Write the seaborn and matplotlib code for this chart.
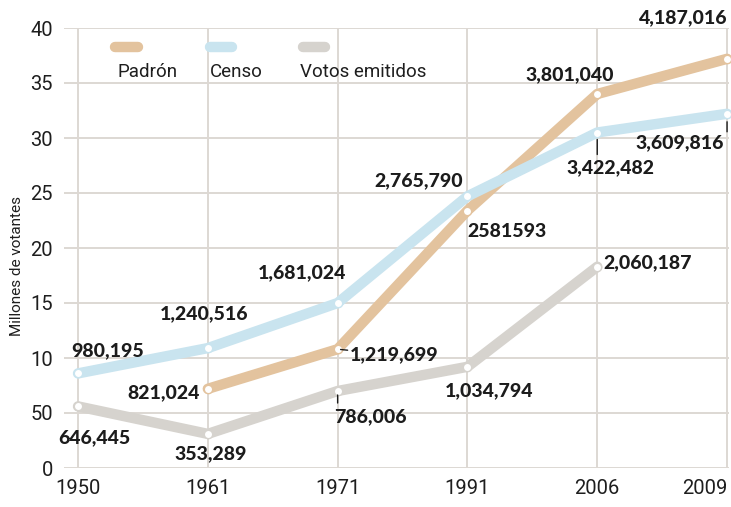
import matplotlib
matplotlib.use("Agg")
import matplotlib.pyplot as plt
import seaborn as sns
import pandas as pd

years = ["1950", "1961", "1971", "1991", "2006", "2009"]
series_names = ["Padrón", "Censo", "Votos emitidos"]
padron = [None, 7.2, 10.8, 23.4, 34.0, 37.2]
censo = [8.6, 10.9, 15.0, 24.7, 30.5, 32.2]
votos = [5.6, 3.1, 7.0, 9.2, 18.3, None]
padron_labels = [None, "821,024", "1,219,699", "2581593", "3,801,040", "4,187,016"]
censo_labels = ["980,195", "1,240,516", "1,681,024", "2,765,790", "3,422,482", "3,609,816"]
votos_labels = ["646,445", "353,289", "786,006", "1,034,794", "2,060,187", None]
ytick_values = [0, 5, 10, 15, 20, 25, 30, 35, 40]
ytick_labels = ["0", "50", "10", "15", "20", "25", "30", "35", "40"]
ylabel = "Millones de votantes"

colors = {"Padrón": "#e3c39e", "Censo": "#c9e4ef", "Votos emitidos": "#d6d3ce"}

rows = []
for name, vals in zip(series_names, [padron, censo, votos]):
    for i, v in enumerate(vals):
        if v is not None:
            rows.append({"pos": i, "year": years[i], "serie": name, "value": v})
df = pd.DataFrame(rows)

sns.set_theme(style="white")
plt.rcParams["font.family"] = ["Roboto", "DejaVu Sans"]

fig = plt.figure(figsize=(7.31, 5.07), dpi=100)
ax = fig.add_axes([64 / 731, 1 - 468 / 507, 665 / 731, 440 / 507])

sns.lineplot(data=df, x="pos", y="value", hue="serie", hue_order=series_names,
             palette=colors, linewidth=7.5, marker="o", markersize=6,
             markerfacecolor="white", markeredgewidth=1.0,
             solid_capstyle="round", legend=False, ax=ax, clip_on=False, zorder=3)
for line in ax.lines:
    line.set_markeredgecolor(line.get_color())

ax.set_xlim(-0.108, 5.015)
ax.set_ylim(0, 40)
ax.set_xticks(range(len(years)))
ax.set_xticklabels(years)
ax.set_yticks(ytick_values)
ax.set_yticklabels(ytick_labels)
ax.tick_params(axis="both", length=0, labelsize=14.5, colors="#1e1e1e")
ax.tick_params(axis="x", pad=8)
ax.tick_params(axis="y", pad=8)
ax.get_xticklabels()[-1].set_horizontalalignment("right")
ax.grid(True, color="#ddd8d3", linewidth=1.4)
ax.set_axisbelow(True)
for s in ax.spines.values():
    s.set_visible(False)
ax.set_xlabel("")
ax.set_ylabel(ylabel, fontsize=11, color="#1e1e1e")
ax.yaxis.set_label_coords(-0.06, 0.46)

lab_font = dict(fontsize=14, fontweight=900, color="#1c1c1c", family=["Lato", "DejaVu Sans"])
# (dx, dy, ha) offsets in pixels from the point
specs = {
    "Censo": (censo, censo_labels,
              [(30, 23, "center"), (-4, 34, "center"), (-36, 30, "center"),
               (-49, 16, "center"), (13, -35, "center"), (-47, -29, "center")]),
    "Padrón": (padron, padron_labels,
               [None, (-8, -4, "right"), (12, -6, "left"), (0, -21, "left"),
                (-28, 19, "center"), (-44, 41, "center")]),
    "Votos emitidos": (votos, votos_labels,
                       [(16, -31, "center"), (3, -20, "center"), (33, -26, "center"),
                        (22, -24, "center"), (50, 4, "center"), None]),
}
for name, (vals, labs, offs) in specs.items():
    for i, (v, t, o) in enumerate(zip(vals, labs, offs)):
        if v is None or t is None or o is None:
            continue
        dx, dy, ha = o
        ax.annotate(t, xy=(i, v), xytext=(dx, dy), textcoords="offset pixels",
                    ha=ha, va="center", annotation_clip=False, zorder=5, **lab_font)

# leader ticks: (series values, index, start offset px, gap to point px)
leaders = [(votos, 2, (0, -12), 4),
           (censo, 4, (0, -22), 7),
           (censo, 5, (0, -18), 8),
           (padron, 2, (10, -1), 3)]
for vals, i, (sx, sy), gap in leaders:
    ax.annotate("", xy=(i, vals[i]), xytext=(sx, sy), textcoords="offset pixels",
                arrowprops=dict(arrowstyle="-", color="#1c1c1c", lw=1.0,
                                shrinkA=0, shrinkB=gap * 0.72),
                annotation_clip=False, zorder=5)

# custom legend: swatch above label
leg = [("Padrón", 0.069, 0.119, 0.081), ("Censo", 0.212, 0.260, 0.2195), ("Votos emitidos", 0.352, 0.400, 0.355)]
for name, x0, x1, tx in leg:
    ax.plot([x0 + 0.008, x1 - 0.008], [0.957, 0.957], transform=ax.transAxes,
            color=colors[name], lw=7.5, solid_capstyle="round", clip_on=False, zorder=4)
    ax.text(tx, 0.9, name, transform=ax.transAxes, fontsize=13.5, color="#1e1e1e",
            ha="left", va="center", zorder=4)

fig.savefig("out.png", dpi=100)
